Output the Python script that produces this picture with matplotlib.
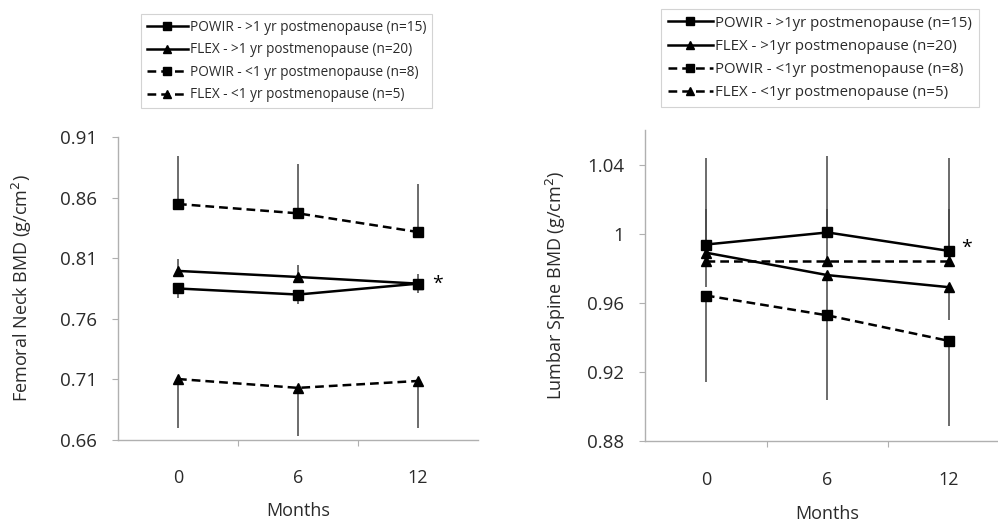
import matplotlib
matplotlib.use('Agg')
import matplotlib.pyplot as plt

plt.rcParams['font.family'] = ['Open Sans', 'DejaVu Sans']

months = ['0', '6', '12']

# Femoral neck BMD (g/cm2)
fn_powir_gt1 = [0.785, 0.780, 0.789]
fn_flex_gt1 = [0.7995, 0.7945, 0.789]
fn_powir_lt1 = [0.8547, 0.847, 0.8316]
fn_flex_lt1 = [0.7103, 0.703, 0.7087]
fn_err_powir_gt1 = [0.008, 0.008, 0.008]
fn_err_flex_gt1 = [0.010, 0.010, 0.008]
fn_err_powir_lt1 = [0.040, 0.041, 0.040]
fn_err_flex_lt1 = [0.040, 0.040, 0.039]

# Lumbar spine BMD (g/cm2)
ls_powir_gt1 = [0.9937, 1.0007, 0.990]
ls_flex_gt1 = [0.989, 0.976, 0.969]
ls_powir_lt1 = [0.9642, 0.9527, 0.9379]
ls_flex_lt1 = [0.984, 0.984, 0.984]
ls_err_powir_gt1 = [0.050, 0.044, 0.054]
ls_err_flex_gt1 = [0.020, 0.020, 0.019]
ls_err_powir_lt1 = [0.050, 0.049, 0.049]
ls_err_flex_lt1 = [0.030, 0.030, 0.030]

labels_left = ['POWIR - >1 yr postmenopause (n=15)', 'FLEX - >1 yr postmenopause (n=20)',
               'POWIR - <1 yr postmenopause (n=8)', 'FLEX - <1 yr postmenopause (n=5)']
labels_right = ['POWIR - >1yr postmenopause (n=15)', 'FLEX - >1yr postmenopause (n=20)',
                'POWIR - <1yr postmenopause (n=8)', 'FLEX - <1yr postmenopause (n=5)']

fig = plt.figure(figsize=(9.98, 5.22), dpi=100)
ax1 = fig.add_axes([0.1182, 0.1571, 0.3607, 0.5805])
ax2 = fig.add_axes([0.6463, 0.1552, 0.3657, 0.5958])

x = list(range(len(months)))
grey = '#b0b0b0'
txt = '#2a2a2a'


def draw(ax, series, errs, dirs, labels):
    styles = [('s', '-'), ('^', '-'), ('s', (0, (3.5, 2))), ('^', (0, (3.5, 2)))]
    handles = []
    for (mk, ls), y, e, d, lab in zip(styles, series, errs, dirs, labels):
        if d > 0:
            yerr = [[0] * len(e), e]
        else:
            yerr = [e, [0] * len(e)]
        ax.errorbar(x, y, yerr=yerr, fmt='none', ecolor='#444444', elinewidth=1.1, capsize=0, zorder=2)
        h, = ax.plot(x, y, color='black', linestyle=ls, linewidth=1.8, marker=mk,
                     markersize=7, markerfacecolor='black', markeredgecolor='black', label=lab, zorder=3)
        handles.append(h)
    ax.set_xlim(-0.5, 2.5)
    ax.set_xticks([0.5, 1.5])
    ax.set_xticklabels([])
    ax.tick_params(axis='x', direction='out', length=4, color=grey)
    for i, m in enumerate(months):
        ax.text(i, -0.095, m, transform=ax.get_xaxis_transform(), ha='center', va='top', fontsize=13, color=txt)
    ax.text(1, -0.205, 'Months', transform=ax.get_xaxis_transform(), ha='center', va='top', fontsize=13, color=txt)
    ax.tick_params(axis='y', direction='out', length=4, color=grey, labelsize=13.5, labelcolor=txt, pad=11)
    for s in ['top', 'right']:
        ax.spines[s].set_visible(False)
    for s in ['left', 'bottom']:
        ax.spines[s].set_color(grey)
        ax.spines[s].set_linewidth(1.0)
    return handles


h1 = draw(ax1, [fn_powir_gt1, fn_flex_gt1, fn_powir_lt1, fn_flex_lt1],
          [fn_err_powir_gt1, fn_err_flex_gt1, fn_err_powir_lt1, fn_err_flex_lt1],
          [-1, 1, 1, -1], labels_left)
ax1.set_ylim(0.66, 0.91)
ax1.set_yticks([0.66, 0.71, 0.76, 0.81, 0.86, 0.91])
ax1.set_yticklabels(['0.66', '0.71', '0.76', '0.81', '0.86', '0.91'])
ax1.set_ylabel('Femoral Neck BMD (g/cm$^2$)', fontsize=13, color=txt)
ax1.yaxis.set_label_coords(-0.232, 0.5)
ax1.text(2.12, fn_powir_gt1[2], '*', ha='left', va='center', fontsize=14)

h2 = draw(ax2, [ls_powir_gt1, ls_flex_gt1, ls_powir_lt1, ls_flex_lt1],
          [ls_err_powir_gt1, ls_err_flex_gt1, ls_err_powir_lt1, ls_err_flex_lt1],
          [1, -1, -1, 1], labels_right)
ax2.set_ylim(0.88, 1.06)
ax2.set_yticks([0.88, 0.92, 0.96, 1.0, 1.04])
ax2.set_yticklabels(['0.88', '0.92', '0.96', '1', '1.04'])
ax2.set_ylabel('Lumbar Spine BMD (g/cm$^2$)', fontsize=13, color=txt)
ax2.yaxis.set_label_coords(-0.212, 0.5)
ax2.text(2.1, ls_powir_gt1[2] + 0.002, '*', ha='left', va='center', fontsize=14)

for handles, cx, cy, fs in [(h1, 0.287, 0.883, 9.8), (h2, 0.8216, 0.889, 10.8)]:
    leg = fig.legend(handles=handles, loc='center', bbox_to_anchor=(cx, cy), fontsize=fs,
                     frameon=True, fancybox=False, edgecolor='#c8c8c8', handlelength=3.0,
                     handletextpad=0.15, labelspacing=0.55, borderpad=0.45, borderaxespad=0,
                     markerscale=0.8)
    leg.get_frame().set_linewidth(0.8)
    for t in leg.get_texts():
        t.set_color(txt)

fig.savefig('out.png', dpi=100)
